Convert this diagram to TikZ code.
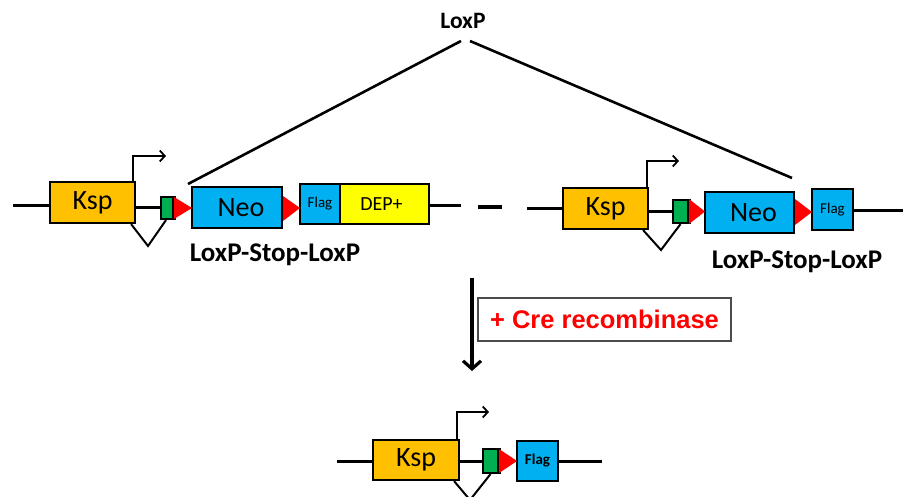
\documentclass[tikz,border=0pt]{standalone}
\usepackage{fontspec}
\setmainfont{Carlito}
\newfontfamily\arialfont{Liberation Sans}
\usetikzlibrary{arrows.meta,calc}
\definecolor{kspor}{HTML}{FFC000}
\definecolor{neob}{HTML}{00B0F0}
\definecolor{depy}{HTML}{FFFF00}
\definecolor{stopg}{HTML}{00B050}
\definecolor{loxr}{HTML}{FF0000}
\tikzset{
  gbox/.style={draw=black, line width=2.2pt, inner sep=0pt, anchor=center},
  bb/.style={line width=3pt},
  thin/.style={line width=2pt},
  loxtri/.style={fill=loxr, draw=none},
  prom/.style={line width=1.8pt, -{Straight Barb[length=5pt,width=11pt,line width=1.8pt]}},
  lbl/.style={font=\bfseries\fontsize{27}{29}\selectfont},
  big/.style={font=\fontsize{28}{30}\selectfont},
  flagf/.style={font=\fontsize{15}{17}\selectfont},
}
\begin{document}
\begin{tikzpicture}[x=1pt,y=-1pt]
\useasboundingbox (0,0) rectangle (903,497);
\clip (0,0) rectangle (903,497);
% ---------- left construct ----------
\coordinate (l1) at (13,206);
\coordinate (r1) at (461,206);
\node[gbox, fill=kspor, minimum width=85pt, minimum height=41pt, big] (ksp1) at (92.5,202.5) {Ksp};
\node[gbox, fill=stopg, minimum width=12pt, minimum height=22pt] (green1) at (167,208) {};
\node[gbox, fill=neob, minimum width=90pt, minimum height=41pt, big] (neo1) at (237,207.5) {\hspace*{8pt}Neo};
\node[gbox, fill=neob, minimum width=40pt, minimum height=40pt, flagf] (flag1) at (320,204) {Flag};
\node[gbox, fill=depy, minimum width=89pt, minimum height=40pt, font=\fontsize{20}{22}\selectfont] (dep) at (384.5,204) {DEP+\hspace*{6pt}};
\draw[bb] (l1) -- (l1 -| ksp1.west);
\draw[bb] (ksp1.east |- green1) -- (green1.west);
\draw[bb] (dep.east |- r1) -- (r1);
\draw[line width=3pt] (green1.north east) -- (green1.south east);
\fill[loxtri] (174,197) -- (174,219) -- (192,208) -- cycle;
\fill[loxtri] (283,196) -- (283,221) -- (300,208) -- cycle;
\coordinate (p1a) at (133,182);
\coordinate (p1b) at (166,156);
\draw[prom] (p1a) |- (p1b);
\coordinate (v1) at (148,246);
\draw[thin] ($(ksp1.south east)+(-5,0)$) -- (v1) -- ($(green1.south)+(-1,0)$);
\node[lbl] (lsl1) at (275,255) {LoxP-Stop-LoxP};
% dash
\coordinate (d1) at (478,207);
\coordinate (d2) at (502,207);
\draw[line width=4.5pt] (d1) -- (d2);
% ---------- right construct ----------
\coordinate (l2) at (527,209);
\coordinate (r2) at (903,211);
\node[gbox, fill=kspor, minimum width=85pt, minimum height=41pt, big] (ksp2) at (605.5,208.5) {Ksp};
\node[gbox, fill=stopg, minimum width=15pt, minimum height=23pt] (green2) at (680.5,211.5) {};
\node[gbox, fill=neob, minimum width=89pt, minimum height=41pt, big] (neo2) at (749.5,212.5) {\hspace*{8pt}Neo};
\node[gbox, fill=neob, minimum width=41pt, minimum height=41pt, flagf] (flag2) at (832.5,209.5) {Flag};
\draw[bb] (l2) -- (l2 -| ksp2.west);
\draw[bb] (ksp2.east |- green2) -- (green2.west);
\draw[bb] (flag2.east |- r2) -- (r2);
\draw[line width=3pt] (green2.north east) -- (green2.south east);
\fill[loxtri] (689,199) -- (689,224) -- (705,211.5) -- cycle;
\fill[loxtri] (795,199) -- (795,225) -- (812,212) -- cycle;
\coordinate (p2a) at (647,188);
\coordinate (p2b) at (679,161);
\draw[prom] (p2a) |- (p2b);
\coordinate (v2) at (661,250);
\draw[thin] ($(ksp2.south east)+(-6,0)$) -- (v2) -- (green2.south);
\node[lbl] (lsl2) at (797,262) {LoxP-Stop-LoxP};
% ---------- LoxP ----------
\node[font=\bfseries\fontsize{23.5}{25}\selectfont] (loxp) at (463,21) {LoxP};
\coordinate (lxa) at (461,41);
\coordinate (lxb) at (188,184);
\coordinate (lxc) at (470,41);
\coordinate (lxd) at (792,178);
\draw[line width=2.6pt] (lxa) -- (lxb);
\draw[line width=2.6pt] (lxc) -- (lxd);
% ---------- arrow & Cre ----------
\coordinate (a1) at (472,278);
\coordinate (a2) at (472,371);
\draw[line width=3.2pt, -{Straight Barb[length=8pt,width=18pt,line width=3.2pt]}] (a1) -- (a2);
\node[draw=black!70, line width=1.4pt, minimum width=253pt, minimum height=43pt, inner sep=0pt, text=loxr, font=\arialfont\bfseries\fontsize{25.5}{27}\selectfont] (cre) at (604.5,319.5) {+ Cre recombinase};
% ---------- bottom construct ----------
\coordinate (l3) at (337,461);
\coordinate (r3) at (602,461);
\node[gbox, fill=kspor, minimum width=86pt, minimum height=40pt, big] (ksp3) at (416,460) {Ksp};
\node[gbox, fill=stopg, minimum width=15pt, minimum height=24pt] (green3) at (490.5,461) {};
\node[gbox, fill=neob, minimum width=41pt, minimum height=40pt, font=\bfseries\fontsize{15}{17}\selectfont] (flag3) at (537.5,461) {Flag};
\draw[bb] (l3) -- (l3 -| ksp3.west);
\draw[bb] (ksp3.east |- green3) -- (green3.west);
\draw[bb] (flag3.east |- r3) -- (r3);
\draw[line width=3pt] (green3.north east) -- (green3.south east);
\fill[loxtri] (499,449) -- (499,473) -- (517,461) -- cycle;
\coordinate (p3a) at (457,440);
\coordinate (p3b) at (489,412);
\draw[prom] (p3a) |- (p3b);
\coordinate (v3) at (470,500);
\draw[thin] ($(ksp3.south east)+(-6,0)$) -- (v3) -- (green3.south);
\end{tikzpicture}
\end{document}
